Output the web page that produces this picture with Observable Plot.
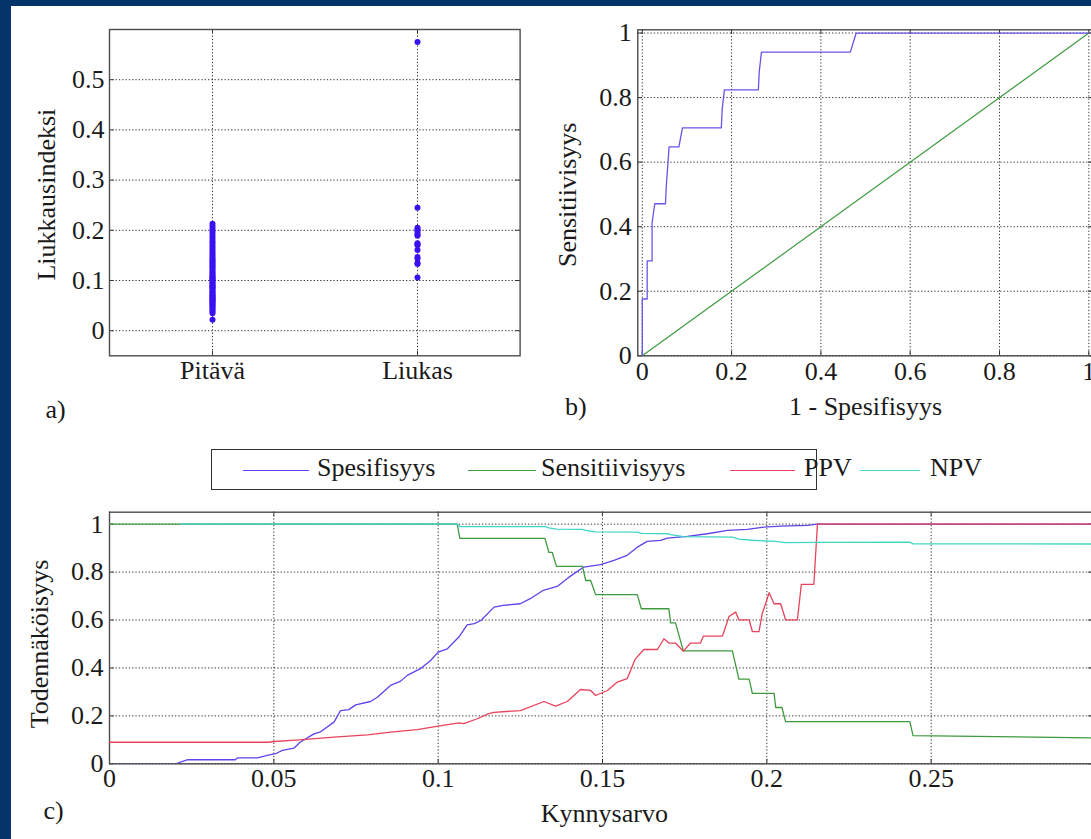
<!DOCTYPE html>
<html>
<head>
<meta charset="utf-8">
<script src="https://cdn.jsdelivr.net/npm/d3@7"></script>
<script src="https://cdn.jsdelivr.net/npm/@observablehq/plot@0.6"></script>
<style>
  html, body { margin: 0; padding: 0; width: 1091px; height: 839px; overflow: hidden; background: #fff; }
  #stage { position: relative; width: 1091px; height: 839px; overflow: hidden; background: #fff;
           font-family: "Liberation Serif", "DejaVu Serif", serif; color: #1a1a1a; }
  #stage svg, #stage svg text { font-family: "Liberation Serif", "DejaVu Serif", serif !important; }
  .bl { position: absolute; left: 0; top: 0; width: 11px; height: 839px; background: #03346a; z-index: 5; }
  .bt { position: absolute; left: 0; top: 0; width: 1091px; height: 6px; background: #03346a; z-index: 5; }
  .panel { position: absolute; }
  .panel svg { display: block; max-width: none !important; overflow: visible; }
  .legend { position: absolute; left: 211px; top: 449px; width: 606px; height: 41px;
            border: 1.5px solid #333; box-sizing: border-box; }
  .sw { position: absolute; height: 1.3px; }
  .lt { position: absolute; font-size: 26px; line-height: 26px; white-space: nowrap; }
</style>
</head>
<body>
<div id="stage">
  <div class="bl"></div><div class="bt"></div>
  <div class="panel" id="pa" style="left:0;top:0;width:530px;height:400px"></div>
  <div class="panel" id="pb" style="left:540px;top:0;width:560px;height:440px"></div>
  <div class="panel" id="pc" style="left:0;top:440px;width:1100px;height:400px"></div>
  <div class="legend"></div>
  <div id="legendItems"></div>
</div>
<script>
// ---------- Panel a: slipperiness index by class ----------
const categories = ["Pitävä", "Liukas"];
const pitavaValues = [0.022, 0.035, 0.038, 0.041, 0.044, 0.047, 0.050, 0.052, 0.055, 0.057, 0.059,
  0.061, 0.063, 0.065, 0.067, 0.069, 0.071, 0.073, 0.076, 0.078, 0.081, 0.084, 0.086, 0.088,
  0.090, 0.092, 0.095, 0.097, 0.100, 0.102, 0.104, 0.106, 0.108, 0.111, 0.114, 0.117, 0.120,
  0.124, 0.127, 0.130, 0.133, 0.136, 0.139, 0.142, 0.145, 0.149, 0.153, 0.157, 0.161, 0.165,
  0.169, 0.174, 0.178, 0.183, 0.188, 0.193, 0.198, 0.203, 0.208, 0.213];
const liukasValues = [0.106, 0.133, 0.135, 0.144, 0.147, 0.161, 0.170, 0.172, 0.174, 0.189,
  0.191, 0.195, 0.199, 0.202, 0.205, 0.245, 0.575];
const yTicksA = [0, 0.1, 0.2, 0.3, 0.4, 0.5];

// ---------- Panel b: ROC curve (1 - specificity, sensitivity) ----------
const rocCurve = [[0, 0], [0, 0.176], [0.011, 0.176], [0.011, 0.294], [0.022, 0.294], [0.022, 0.412],
  [0.028, 0.471], [0.052, 0.471], [0.054, 0.529], [0.060, 0.647], [0.082, 0.647], [0.090, 0.706],
  [0.177, 0.706], [0.179, 0.765], [0.184, 0.824], [0.260, 0.824], [0.262, 0.882], [0.267, 0.941],
  [0.466, 0.941], [0.479, 1], [1, 1]];
const rocDiagonal = [[0, 0], [1, 1]];
const ticksB = [0, 0.2, 0.4, 0.6, 0.8, 1];

// ---------- Panel c: measures vs threshold ----------
const spesifisyys = [[0, 0], [0.0201, 0], [0.0238, 0.017], [0.0383, 0.017], [0.039, 0.025], [0.045, 0.025],
  [0.048, 0.035], [0.0505, 0.042], [0.0526, 0.056], [0.0561, 0.065], [0.058, 0.09], [0.0622, 0.125],
  [0.064, 0.132], [0.0683, 0.174], [0.0703, 0.222], [0.0728, 0.226], [0.0749, 0.246], [0.0794, 0.26],
  [0.0815, 0.278], [0.0855, 0.327], [0.0886, 0.345], [0.0906, 0.369], [0.0946, 0.397], [0.0977, 0.431],
  [0.1, 0.466], [0.1028, 0.48], [0.1063, 0.529], [0.1088, 0.58], [0.111, 0.585], [0.113, 0.598],
  [0.117, 0.654], [0.1197, 0.661], [0.125, 0.668], [0.128, 0.689], [0.132, 0.724], [0.1362, 0.74],
  [0.1398, 0.779], [0.1443, 0.821], [0.1494, 0.831], [0.1535, 0.849], [0.1575, 0.87], [0.1606, 0.904],
  [0.1636, 0.928], [0.1677, 0.932], [0.1697, 0.942], [0.1758, 0.949], [0.1819, 0.96], [0.188, 0.974],
  [0.194, 0.978], [0.1991, 0.988], [0.2042, 0.992], [0.2123, 0.995], [0.2154, 1], [0.575, 1]];
const sensitiivisyys = [[0, 1], [0.1058, 1], [0.1066, 0.941], [0.1325, 0.941], [0.1337, 0.882],
  [0.1347, 0.882], [0.136, 0.824], [0.1439, 0.824], [0.1449, 0.765], [0.1464, 0.765], [0.1479, 0.706],
  [0.1606, 0.706], [0.1618, 0.647], [0.1702, 0.647], [0.1707, 0.588], [0.1722, 0.588], [0.1746, 0.471],
  [0.1895, 0.471], [0.1915, 0.353], [0.1946, 0.353], [0.1956, 0.294], [0.2022, 0.294], [0.2027, 0.235],
  [0.2046, 0.235], [0.2057, 0.176], [0.2435, 0.176], [0.2445, 0.118], [0.575, 0.059]];
const ppv = [[0, 0.09], [0.0485, 0.09], [0.05, 0.093], [0.0579, 0.1], [0.0683, 0.111], [0.0784, 0.121],
  [0.0855, 0.132], [0.0936, 0.143], [0.1, 0.157], [0.1063, 0.171], [0.1078, 0.168], [0.1119, 0.188],
  [0.1154, 0.209], [0.117, 0.215], [0.125, 0.222], [0.1322, 0.26], [0.1357, 0.241], [0.1393, 0.26],
  [0.1433, 0.31], [0.1464, 0.306], [0.1479, 0.285], [0.1515, 0.306], [0.1545, 0.341], [0.1575, 0.355],
  [0.16, 0.438], [0.1626, 0.477], [0.1667, 0.477], [0.1687, 0.522], [0.1702, 0.504], [0.1722, 0.504],
  [0.1746, 0.47], [0.1768, 0.504], [0.1798, 0.504], [0.1807, 0.533], [0.1865, 0.533], [0.1885, 0.615],
  [0.1905, 0.633], [0.1915, 0.601], [0.1946, 0.601], [0.1956, 0.552], [0.1976, 0.552], [0.1986, 0.626],
  [0.2007, 0.714], [0.2022, 0.668], [0.2042, 0.668], [0.2057, 0.601], [0.2093, 0.601], [0.2105, 0.749],
  [0.2143, 0.749], [0.2154, 1], [0.575, 1]];
const npv = [[0.0215, 1], [0.1058, 1], [0.1066, 0.99], [0.1325, 0.99], [0.1337, 0.985], [0.136, 0.979],
  [0.1439, 0.978], [0.1449, 0.974], [0.1479, 0.968], [0.1606, 0.967], [0.1618, 0.962], [0.1702, 0.96],
  [0.1707, 0.956], [0.1746, 0.948], [0.1895, 0.946], [0.1915, 0.938], [0.1956, 0.933], [0.2027, 0.928],
  [0.2057, 0.923], [0.2154, 0.924], [0.2435, 0.925], [0.2445, 0.918], [0.575, 0.914]];
const xTicksC = [0, 0.05, 0.1, 0.15, 0.2, 0.25];
const yTicksC = [0, 0.2, 0.4, 0.6, 0.8, 1];

const seriesNames = ["Spesifisyys", "Sensitiivisyys", "PPV", "NPV"];
const seriesColors = ["#5a46ec", "#3f9a3f", "#e8425c", "#3fd6c6"];

// ---------- shared styling ----------
const FONT = "Liberation Serif, DejaVu Serif, serif";
const fmt = d3.format("~g");
const baseStyle = {fontFamily: FONT, fontSize: "26px", color: "#1a1a1a", background: "transparent", overflow: "visible", maxWidth: "none"};
const grid = {stroke: "#000", strokeOpacity: 0.8, strokeDasharray: "1.3,2", strokeWidth: 1};
const frameStyle = {stroke: "#4d4d4d", strokeWidth: 1.4};
const px = d => d[0], py = d => d[1];
const title = (s, o) => Plot.text([s], {textAnchor: "middle", lineAnchor: "middle", fontSize: 26, fontFamily: FONT, ...o});
const TL = 4.5; // inner tick length
const tickStyle = {stroke: "#333", strokeWidth: 1};
// inner tick marks on all four sides of the frame (frame width fw, height fh)
function innerTicks(xt, yt, fw, fh) {
  return [
    Plot.tickY(yt, {y: d => d, insetRight: fw - TL, ...tickStyle}),
    Plot.tickY(yt, {y: d => d, insetLeft: fw - TL, ...tickStyle}),
    Plot.tickX(xt, {x: d => d, insetTop: fh - TL, ...tickStyle}),
    Plot.tickX(xt, {x: d => d, insetBottom: fh - TL, ...tickStyle})
  ];
}

// Panel a
const scatter = [
  ...pitavaValues.map(v => ({group: categories[0], value: v})),
  ...liukasValues.map(v => ({group: categories[1], value: v}))
];
const plotA = Plot.plot({
  width: 530, height: 400,
  marginLeft: 109, marginRight: 10.4, marginTop: 29, marginBottom: 44.7,
  style: baseStyle,
  x: {type: "point", domain: categories, padding: 0.5},
  y: {domain: [-0.05, 0.6]},
  marks: [
    Plot.gridX({ticks: categories, ...grid}),
    Plot.gridY({ticks: yTicksA, ...grid}),
    ...innerTicks(categories, yTicksA, 410.6, 326.3),
    Plot.frame(frameStyle),
    Plot.dot(scatter, {x: "group", y: "value", r: 3, fill: "#3a12f2", stroke: null}),
    Plot.axisX({ticks: categories, tickSize: 0, tickPadding: 5, label: null}),
    Plot.axisY({ticks: yTicksA, tickFormat: fmt, tickSize: 0, tickPadding: 5, label: null}),
    title("Liukkausindeksi", {frameAnchor: "left", dx: -63, dy: 2, rotate: -90}),
    title("a)", {frameAnchor: "bottom-left", dx: -54, dy: 54})
  ]
});
document.getElementById("pa").append(plotA);

// Panel b
const plotB = Plot.plot({
  width: 560, height: 440,
  marginLeft: 97.3, marginRight: 7.2, marginTop: 29.3, marginBottom: 84.7,
  style: baseStyle,
  x: {domain: [-0.01, 1.01]},
  y: {domain: [0, 1.01]},
  marks: [
    Plot.gridX({ticks: ticksB, ...grid}),
    Plot.gridY({ticks: ticksB, ...grid}),
    ...innerTicks(ticksB, ticksB, 455.5, 326),
    Plot.frame(frameStyle),
    Plot.line(rocDiagonal, {x: px, y: py, stroke: seriesColors[1], strokeWidth: 1.2}),
    Plot.line(rocCurve, {x: px, y: py, stroke: "#6656e6", strokeWidth: 1.3}),
    Plot.axisX({ticks: ticksB, tickFormat: fmt, tickSize: 0, tickPadding: 6, label: null}),
    Plot.axisY({ticks: ticksB, tickFormat: fmt, tickSize: 0, tickPadding: 6, label: null}),
    title("Sensitiivisyys", {frameAnchor: "left", dx: -70, dy: 2, rotate: -90}),
    title("1 - Spesifisyys", {frameAnchor: "bottom", dy: 51}),
    title("b)", {frameAnchor: "bottom-left", dx: -62, dy: 51})
  ]
});
document.getElementById("pb").append(plotB);

// Panel c
const seriesData = [spesifisyys, sensitiivisyys, ppv, npv];
const plotC = Plot.plot({
  width: 1100, height: 400,
  marginLeft: 109, marginRight: 7.3, marginTop: 71.7, marginBottom: 76.7,
  style: baseStyle,
  x: {domain: [0, 0.2993]},
  y: {domain: [0, 1.05]},
  marks: [
    Plot.gridX({ticks: xTicksC, ...grid}),
    Plot.gridY({ticks: yTicksC, ...grid}),
    ...innerTicks(xTicksC, yTicksC, 983.7, 251.6),
    Plot.frame(frameStyle),
    ...seriesData.map((s, i) => Plot.line(s, {x: px, y: py, stroke: seriesColors[i], strokeWidth: 1.3, clip: true})),
    Plot.axisX({ticks: xTicksC, tickFormat: fmt, tickSize: 0, tickPadding: 5, label: null}),
    Plot.axisY({ticks: yTicksC, tickFormat: fmt, tickSize: 0, tickPadding: 6, label: null}),
    title("Todennäköisyys", {frameAnchor: "left", dx: -70, dy: 6, rotate: -90}),
    title("Kynnysarvo", {frameAnchor: "bottom", dx: 3, dy: 50}),
    title("c)", {frameAnchor: "bottom-left", dx: -56, dy: 47})
  ]
});
document.getElementById("pc").append(plotC);

// Legend (HTML, above panel c)
const legendLayout = [
  {line: [243, 309], text: 317},
  {line: [468, 536], text: 541},
  {line: [730, 795], text: 804},
  {line: [860, 920], text: 930}
];
const li = document.getElementById("legendItems");
seriesNames.forEach((name, i) => {
  const L = legendLayout[i];
  const sw = document.createElement("div");
  sw.className = "sw";
  sw.style.left = L.line[0] + "px";
  sw.style.width = (L.line[1] - L.line[0]) + "px";
  sw.style.top = "469.5px";
  sw.style.background = seriesColors[i];
  li.append(sw);
  const t = document.createElement("div");
  t.className = "lt";
  t.style.left = L.text + "px";
  t.style.top = "455px";
  t.textContent = name;
  li.append(t);
});
</script>
</body>
</html>
